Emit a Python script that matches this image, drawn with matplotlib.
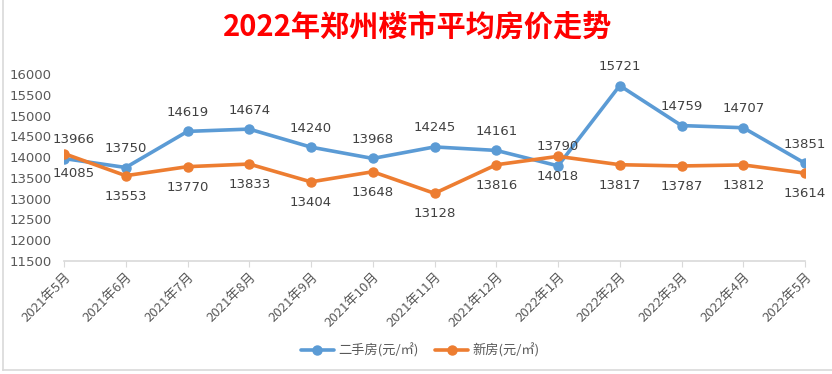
import matplotlib
matplotlib.use('Agg')
import matplotlib.pyplot as plt
from matplotlib.lines import Line2D

plt.rcParams['font.family'] = ['Noto Sans CJK SC', 'DejaVu Sans']

# data
months = ['2021年5月', '2021年6月', '2021年7月', '2021年8月', '2021年9月', '2021年10月',
          '2021年11月', '2021年12月', '2022年1月', '2022年2月', '2022年3月', '2022年4月',
          '2022年5月']
second_hand = [13966, 13750, 14619, 14674, 14240, 13968, 14245, 14161, 13790, 15721,
               14759, 14707, 13851]
new_homes = [14085, 13553, 13770, 13833, 13404, 13648, 13128, 13816, 14018, 13817,
             13787, 13812, 13614]
yticks = list(range(11500, 16001, 500))

blue = '#5B9BD5'
orange = '#ED7D31'
grey = '#595959'

fig = plt.figure(figsize=(8.32, 3.74), dpi=100)
ax = fig.add_axes([64/832, 1 - 261/374, (805 - 64)/832, (261 - 74)/374])

x = list(range(len(months)))
ax.plot(x, second_hand, color=blue, lw=2.6, marker='o', ms=6.5, label='二手房(元/㎡)',
        solid_capstyle='round', zorder=3)
ax.plot(x, new_homes, color=orange, lw=2.6, marker='o', ms=6.5, label='新房(元/㎡)',
        solid_capstyle='round', zorder=3)

# data labels: blue above, orange below (first pair nudged off the y labels)
for i in x:
    dx = 7 if i == 0 else 0
    ax.annotate(str(second_hand[i]), (i, second_hand[i]), xytext=(dx, 9),
                textcoords='offset points', ha='center', va='bottom',
                fontsize=9.5, color='#404040', family='DejaVu Sans')
    ax.annotate(str(new_homes[i]), (i, new_homes[i]), xytext=(dx, -10),
                textcoords='offset points', ha='center', va='top',
                fontsize=9.5, color='#404040', family='DejaVu Sans')

ax.set_xlim(0, len(months) - 1)
ax.set_ylim(11500, 16000)
ax.set_yticks(yticks)
ax.set_yticklabels([str(v) for v in yticks], family='DejaVu Sans')
ax.set_xticks(x)
ax.set_xticklabels(months, rotation=45, ha='right', rotation_mode='anchor')
ax.tick_params(axis='y', length=0, labelsize=9.5, labelcolor=grey, pad=9)
ax.tick_params(axis='x', length=4, color='#d9d9d9', labelsize=9.5, labelcolor=grey, pad=3)
for s in ['top', 'right', 'left']:
    ax.spines[s].set_visible(False)
ax.spines['bottom'].set_color('#d9d9d9')
ax.spines['bottom'].set_linewidth(1.2)
ax.spines['bottom'].set_zorder(1)

fig.text(0.502, 1 - 27/374, '2022年郑州楼市平均房价走势', ha='center', va='center',
         fontsize=21, fontweight='bold', color='#FF0000')

fig.legend(loc='center', bbox_to_anchor=(0.505, 1 - 350/374), ncol=2, frameon=False,
           fontsize=9.5, labelcolor=grey, handlelength=2.5, columnspacing=1.3,
           handletextpad=0.3)

# light grey frame of the chart
fig.add_artist(Line2D([2.5/832, 2.5/832], [4/374, 1], transform=fig.transFigure,
                      color='#d9d9d9', lw=1.2))
fig.add_artist(Line2D([2.5/832, 1], [4/374, 4/374], transform=fig.transFigure,
                      color='#d9d9d9', lw=1.2))

fig.savefig('out.png', dpi=100)
